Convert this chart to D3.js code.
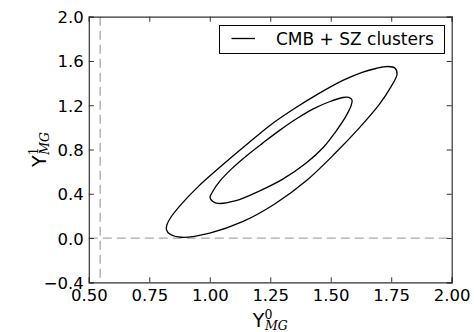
<!DOCTYPE html>
<html>
<head>
<meta charset="utf-8">
<script src="https://cdn.jsdelivr.net/npm/d3@7"></script>
<style>
  body { margin: 0; background: #fff; }
  text { font-family: "DejaVu Sans", sans-serif; fill: #000; }
</style>
</head>
<body>
<div id="chart"></div>
<script>
// axis ticks
var xTicks = [0.50, 0.75, 1.00, 1.25, 1.50, 1.75, 2.00];
var xTickLabels = ["0.50", "0.75", "1.00", "1.25", "1.50", "1.75", "2.00"];
var yTicks = [-0.4, 0.0, 0.4, 0.8, 1.2, 1.6, 2.0];
var yTickLabels = ["\u22120.4", "0.0", "0.4", "0.8", "1.2", "1.6", "2.0"];

// reference lines
var xRef = 0.547;
var yRef = 0.0;

// contours: [Y0, Y1]
var outerContour = [
  [0.821, 0.075], [0.836, 0.034], [0.884, 0.007], [1.000, 0.045], [1.138, 0.150],
  [1.270, 0.310], [1.400, 0.520], [1.520, 0.770], [1.620, 1.000], [1.700, 1.205],
  [1.750, 1.370], [1.774, 1.480], [1.766, 1.535], [1.736, 1.550],
  [1.687, 1.532], [1.633, 1.500], [1.550, 1.425], [1.450, 1.305], [1.350, 1.170],
  [1.250, 1.020], [1.150, 0.840], [1.050, 0.655], [0.950, 0.460], [0.880, 0.300],
  [0.840, 0.190], [0.823, 0.120]
];
var innerContour = [
  [1.001, 0.367], [1.013, 0.331], [1.034, 0.313], [1.104, 0.335], [1.200, 0.420],
  [1.300, 0.530], [1.400, 0.680], [1.470, 0.820], [1.520, 0.960], [1.560, 1.090],
  [1.584, 1.195], [1.588, 1.248], [1.575, 1.270], [1.550, 1.270], [1.500, 1.236],
  [1.430, 1.170], [1.360, 1.080], [1.290, 0.975], [1.220, 0.860], [1.150, 0.740],
  [1.090, 0.625], [1.040, 0.510], [1.012, 0.420]
];
var legendLabel = "CMB + SZ clusters";

var W = 474, H = 332;
var margin = { top: 16.7, right: 22.3, bottom: 49.7, left: 88.8 },
  width = W - margin.left - margin.right,
  height = H - margin.top - margin.bottom;

var svg = d3.select("#chart")
  .append("svg")
  .attr("width", W)
  .attr("height", H);

var g = svg.append("g")
  .attr("transform", "translate(" + margin.left + "," + margin.top + ")");

var x = d3.scaleLinear().domain([0.5, 2.0]).range([0, width]);
var y = d3.scaleLinear().domain([-0.4, 2.0]).range([height, 0]);

// dashed reference lines
g.append("line")
  .attr("x1", x(xRef)).attr("x2", x(xRef))
  .attr("y1", 0).attr("y2", height)
  .attr("stroke", "#a8a8a8").attr("stroke-width", 1.3)
  .attr("stroke-dasharray", "9,5");
g.append("line")
  .attr("x1", 0).attr("x2", width)
  .attr("y1", y(yRef)).attr("y2", y(yRef))
  .attr("stroke", "#a8a8a8").attr("stroke-width", 1.3)
  .attr("stroke-dasharray", "9,5");

// contours
var line = d3.line()
  .x(function (d) { return x(d[0]); })
  .y(function (d) { return y(d[1]); })
  .curve(d3.curveCatmullRomClosed.alpha(0.5));

[outerContour, innerContour].forEach(function (c) {
  g.append("path")
    .attr("d", line(c))
    .attr("fill", "none")
    .attr("stroke", "#000")
    .attr("stroke-width", 1.3);
});

// axes: inward ticks on all sides
var fs = 16.5;
var axBottom = g.append("g")
  .attr("transform", "translate(0," + height + ")")
  .call(d3.axisBottom(x).tickValues(xTicks)
    .tickFormat(function (d, i) { return xTickLabels[i]; })
    .tickSize(-5).tickPadding(10));
var axLeft = g.append("g")
  .call(d3.axisLeft(y).tickValues(yTicks)
    .tickFormat(function (d, i) { return yTickLabels[i]; })
    .tickSize(-5).tickPadding(10));
var axTop = g.append("g")
  .call(d3.axisTop(x).tickValues(xTicks).tickFormat("").tickSize(-5));
var axRight = g.append("g")
  .attr("transform", "translate(" + width + ",0)")
  .call(d3.axisRight(y).tickValues(yTicks).tickFormat("").tickSize(-5));

[axBottom, axLeft, axTop, axRight].forEach(function (a) {
  a.select(".domain").attr("stroke", "#333").attr("stroke-width", 1.2);
  a.selectAll(".tick line").attr("stroke", "#333").attr("stroke-width", 1);
  a.selectAll("text")
    .style("font-family", "DejaVu Sans")
    .style("font-size", fs + "px")
    .attr("fill", "#000");
});
axBottom.selectAll("text").attr("dy", null).attr("y", 18.5);
axLeft.selectAll("text").attr("dy", null).attr("y", 6).attr("x", -5);

// axis labels
var xl = svg.append("text")
  .attr("x", margin.left + width / 2)
  .attr("y", 326.5)
  .attr("text-anchor", "middle");
xl.append("tspan").style("font-size", "19px").text("\u03A5");
xl.append("tspan").style("font-size", "12.5px").style("font-family", "DejaVu Serif")
  .attr("dy", -8).text("0");
xl.append("tspan").style("font-size", "12.5px").style("font-family", "DejaVu Serif")
  .style("font-style", "italic").attr("dx", -7.5).attr("dy", 11).text("MG");

var yl = svg.append("text")
  .attr("transform", "translate(46," + (margin.top + height / 2) + ") rotate(-90)")
  .attr("text-anchor", "middle");
yl.append("tspan").style("font-size", "19px").text("\u03A5");
yl.append("tspan").style("font-size", "12.5px").style("font-family", "DejaVu Serif")
  .attr("dy", -8).text("1");
yl.append("tspan").style("font-size", "12.5px").style("font-family", "DejaVu Serif")
  .style("font-style", "italic").attr("dx", -7.5).attr("dy", 11).text("MG");

// legend
var lg = svg.append("g");
lg.append("rect")
  .attr("x", 219.5).attr("y", 25.5).attr("width", 225).attr("height", 28)
  .attr("fill", "#fff").attr("stroke", "#000").attr("stroke-width", 1);
lg.append("line")
  .attr("x1", 231.5).attr("x2", 255).attr("y1", 38.5).attr("y2", 38.5)
  .attr("stroke", "#000").attr("stroke-width", 1.3);
lg.append("text")
  .attr("x", 276).attr("y", 44.5)
  .style("font-size", "17px")
  .text(legendLabel);
</script>
</body>
</html>
